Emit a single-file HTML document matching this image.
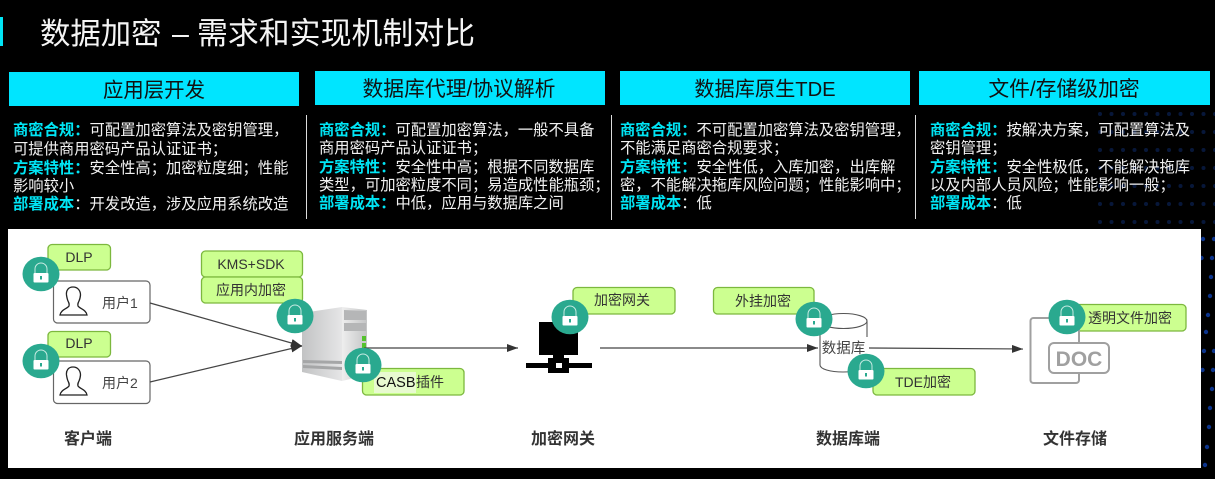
<!DOCTYPE html>
<html lang="zh">
<head>
<meta charset="utf-8">
<style>
html,body{margin:0;padding:0;background:#000;width:1215px;height:479px;overflow:hidden}
svg{display:block}
text{font-family:"Liberation Sans","Noto Sans CJK SC",sans-serif}
.h{font-size:20.4px;fill:#111;text-anchor:middle}
.b{font-size:15.3px;fill:#f2f2f2}
.c{fill:#00e5f5;font-weight:700}
.t{font-size:14px;fill:#333;text-anchor:middle}
.l{font-size:16px;fill:#333;text-anchor:middle;font-weight:700}
.g{fill:#ccff90;stroke:#7cb83e;stroke-width:1.3}
.ln{stroke:#444;stroke-width:1.2;fill:none}
</style>
</head>
<body>
<svg width="1215" height="479" viewBox="0 0 1215 479" xmlns="http://www.w3.org/2000/svg">
<defs>
<linearGradient id="sl" x1="0" y1="0" x2="1" y2="0"><stop offset="0" stop-color="#c2c3c4"/><stop offset="1" stop-color="#e6e6e7"/></linearGradient>
<linearGradient id="sr" x1="0" y1="0" x2="1" y2="0"><stop offset="0" stop-color="#eeeeee"/><stop offset="1" stop-color="#c4c5c6"/></linearGradient>
<pattern id="dots" x="1095" y="109" width="11.500" height="18" patternUnits="userSpaceOnUse"><circle cx="5" cy="5" r="2" fill="#07173a"/></pattern>
<g id="lock">
<ellipse cx="0" cy="0" rx="18.500" ry="17.300" fill="#2aa98f"/>
<path d="M-6-1v-4a6 6 0 0 1 12 0v4" fill="none" stroke="#c8ebe3" stroke-width="1"/>
<rect x="-7.500" y="-1" width="15" height="9.500" rx="1" fill="#fff"/>
<rect x="-1" y="2" width="2" height="3.500" fill="#2aa98f"/>
</g>
<path id="person" d="M13 1c-5 0-7 4-6.500 8 .3 2 .6 4 1.500 6 1 2 1.500 3 1 5-2 3-8 3.500-9 9h27c-1-5.500-7-6-9-9-.5-2 0-3 1-5 1-2 1.300-4 1.500-6C20.500 5 18 1 13 1z" fill="none" stroke="#222" stroke-width="1.300"/>
<marker id="ar" markerWidth="12" markerHeight="8" refX="11" refY="4" orient="auto" markerUnits="userSpaceOnUse"><path d="M0 0L11 4L0 8z" fill="#333"/></marker>
</defs>

<rect width="1215" height="479" fill="#000"/>
<rect x="1095" y="109" width="120" height="120" fill="url(#dots)"/>
<g fill="#0c348c">
<circle cx="1203" cy="239" r="2.200"/><circle cx="1214" cy="239" r="2.200"/>
<circle cx="1201.500" cy="258" r="2.200"/><circle cx="1212" cy="258" r="2.200"/>
<circle cx="1211" cy="277" r="2.200"/><circle cx="1210" cy="296" r="2.200"/>
<circle cx="1208" cy="315" r="2.200"/><circle cx="1206" cy="332" r="2.200"/>
<circle cx="1204" cy="351" r="2.200"/><circle cx="1214" cy="351" r="2.200"/>
<circle cx="1202.500" cy="370" r="2.200"/><circle cx="1213" cy="370" r="2.200"/>
<circle cx="1212" cy="389" r="2.200"/><circle cx="1210" cy="408" r="2.200"/>
<circle cx="1209" cy="427" r="2.200"/><circle cx="1207" cy="447" r="2.200"/>
<circle cx="1205" cy="465" r="2.200"/>
</g>

<!-- Title -->
<rect x="0" y="17" width="3" height="29" fill="#00e5f5"/>
<text x="40" y="44" font-size="30.400" fill="#f5f5f5">数据加密<tspan x="172">–</tspan><tspan x="197" font-size="30.900">需求和实现机制对比</tspan></text>

<!-- Headers -->
<rect x="9" y="72" width="290" height="34" fill="#00e5ff"/>
<rect x="315" y="71" width="290" height="34" fill="#00e5ff"/>
<rect x="620" y="71" width="290" height="34" fill="#00e5ff"/>
<rect x="919" y="71" width="291" height="34" fill="#00e5ff"/>
<text class="h" x="154" y="97">应用层开发</text>
<text class="h" x="459" y="96" style="font-size:20.800px">数据库代理/协议解析</text>
<text class="h" x="765" y="96" style="font-size:20.200px">数据库原生TDE</text>
<text class="h" x="1064" y="96" style="font-size:20.800px">文件/存储级加密</text>

<!-- Separators -->
<rect x="306" y="115" width="1" height="104" fill="#ddd"/>
<rect x="611" y="115" width="1" height="105" fill="#ddd"/>
<rect x="915" y="115" width="1" height="104" fill="#ddd"/>

<!-- Column 1 -->
<text class="b" x="13" y="135"><tspan class="c">商密合规：</tspan>可配置加密算法及密钥管理，</text>
<text class="b" x="13" y="154">可提供商用密码产品认证证书；</text>
<text class="b" x="13" y="173"><tspan class="c">方案特性：</tspan>安全性高；加密粒度细；性能</text>
<text class="b" x="13" y="191">影响较小</text>
<text class="b" x="13" y="209"><tspan class="c">部署成本</tspan>：开发改造，涉及应用系统改造</text>

<!-- Column 2 -->
<text class="b" x="319" y="135"><tspan class="c">商密合规：</tspan>可配置加密算法，一般不具备</text>
<text class="b" x="319" y="153">商用密码产品认证证书；</text>
<text class="b" x="319" y="172"><tspan class="c">方案特性：</tspan>安全性中高；根据不同数据库</text>
<text class="b" x="319" y="190">类型，可加密粒度不同；易造成性能瓶颈；</text>
<text class="b" x="319" y="208"><tspan class="c">部署成本：</tspan>中低，应用与数据库之间</text>

<!-- Column 3 -->
<text class="b" x="620" y="135"><tspan class="c">商密合规：</tspan>不可配置加密算法及密钥管理，</text>
<text class="b" x="620" y="153">不能满足商密合规要求；</text>
<text class="b" x="620" y="172"><tspan class="c">方案特性：</tspan>安全性低，入库加密，出库解</text>
<text class="b" x="620" y="190">密，不能解决拖库风险问题；性能影响中；</text>
<text class="b" x="620" y="208"><tspan class="c">部署成本</tspan>：低</text>

<!-- Column 4 -->
<text class="b" x="930" y="135"><tspan class="c">商密合规：</tspan>按解决方案，可配置算法及</text>
<text class="b" x="930" y="153">密钥管理；</text>
<text class="b" x="930" y="172"><tspan class="c">方案特性：</tspan>安全性极低，不能解决拖库</text>
<text class="b" x="930" y="190">以及内部人员风险；性能影响一般；</text>
<text class="b" x="930" y="208"><tspan class="c">部署成本</tspan>：低</text>

<!-- Diagram panel -->
<rect x="8" y="229" width="1193" height="239" fill="#fff"/>

<!-- Tags -->
<rect class="g" x="48" y="244.500" width="62.500" height="25.500" rx="4"/>
<rect class="g" x="48" y="331.500" width="62.500" height="25.500" rx="4"/>
<rect class="g" x="201.500" y="251" width="101" height="26" rx="4"/>
<rect class="g" x="201.500" y="277" width="101" height="26" rx="4"/>
<rect class="g" x="362.500" y="368.500" width="101.500" height="26.500" rx="4"/>
<rect class="g" x="573" y="287.500" width="102" height="26.500" rx="4"/>
<rect class="g" x="713.500" y="287.500" width="100.500" height="26.500" rx="4"/>
<rect class="g" x="873" y="368.500" width="102" height="26.500" rx="4"/>
<rect class="g" x="1070" y="304.500" width="116" height="26.500" rx="4"/>
<text class="t" x="79" y="262">DLP</text>
<text class="t" x="79" y="348">DLP</text>
<text class="t" x="251" y="269">KMS+SDK</text>
<text class="t" x="251" y="295">应用内加密</text>
<rect x="374" y="372" width="42" height="21" fill="#e8fad0"/>
<text x="376" y="387" font-size="14.500" fill="#111">CASB</text>
<text x="416" y="387" font-size="14" fill="#333">插件</text>
<text class="t" x="622" y="305">加密网关</text>
<text class="t" x="763" y="306">外挂加密</text>
<text class="t" x="923" y="387">TDE加密</text>
<text x="1088" y="323" font-size="14" fill="#333">透明文件加密</text>

<!-- Users -->
<rect x="53.500" y="281" width="96.500" height="42" rx="4" fill="#fff" stroke="#666" stroke-width="1.200"/>
<rect x="53.500" y="361" width="96.500" height="42.500" rx="4" fill="#fff" stroke="#666" stroke-width="1.200"/>
<use href="#person" x="60" y="286"/>
<use href="#person" x="60" y="366"/>
<text x="102" y="308" font-size="14" fill="#444">用户1</text>
<text x="102" y="388" font-size="14" fill="#444">用户2</text>

<!-- Server -->
<polygon points="302,313 342,307 342,381 302,372" fill="url(#sl)"/>
<polygon points="342,307 367,310 367,375 342,381" fill="url(#sr)"/>
<polygon points="303,360 342,361 342,364 303,363" fill="#a5a6a7"/>
<polygon points="303,365 342,367 342,370 303,368" fill="#a5a6a7"/>
<polygon points="344,310 366,311 366,320 344,320" fill="#b5b6b7"/>
<polygon points="344,323 366,323 366,331 344,331" fill="#b5b6b7"/>
<rect x="362" y="336" width="4" height="5" fill="#55c22e"/>
<rect x="362" y="343" width="4" height="5" fill="#55c22e"/>

<!-- Connectors -->
<line class="ln" x1="150" y1="303" x2="302" y2="346" marker-end="url(#ar)"/>
<line class="ln" x1="150" y1="382" x2="302" y2="346" marker-end="url(#ar)"/>
<line class="ln" x1="364" y1="348" x2="518" y2="348" marker-end="url(#ar)"/>
<line class="ln" x1="600" y1="348" x2="818" y2="348" marker-end="url(#ar)"/>

<!-- Gateway -->
<rect x="539" y="322" width="39" height="33" fill="#000"/>
<rect x="553" y="355" width="11" height="4" fill="#000"/>
<rect x="526" y="363" width="66" height="5" fill="#000"/>
<rect x="548" y="358" width="21" height="15" fill="#000"/>
<rect x="556" y="363" width="6" height="5" fill="#fff"/>

<!-- Database -->
<path d="M820 321v44c0 4 10 7 23 7s24-3 24-7v-44" fill="#fff" stroke="#555" stroke-width="1.100"/>
<ellipse cx="843.500" cy="321" rx="23.500" ry="7.500" fill="#fff" stroke="#555" stroke-width="1.100"/>
<rect x="821" y="337" width="47" height="21" fill="#fff"/>
<text x="843.500" y="353" font-size="14.500" fill="#444" text-anchor="middle">数据库</text>
<line class="ln" x1="869" y1="348" x2="1023" y2="349" marker-end="url(#ar)"/>

<!-- DOC -->
<rect x="1030.500" y="318" width="48.500" height="65" rx="3" fill="#fff" stroke="#a0a0a0" stroke-width="2"/>
<rect x="1049" y="343" width="60" height="30" rx="5" fill="#fff" stroke="#a0a0a0" stroke-width="2"/>
<text x="1079" y="366" font-size="21" font-weight="700" fill="#a0a0a0" text-anchor="middle">DOC</text>

<!-- Locks -->
<use href="#lock" x="41" y="274"/>
<use href="#lock" x="41" y="361"/>
<use href="#lock" x="295" y="316"/>
<use href="#lock" x="363" y="365"/>
<use href="#lock" x="570" y="317"/>
<use href="#lock" x="814" y="319"/>
<use href="#lock" x="866" y="371"/>
<use href="#lock" x="1067" y="317"/>

<!-- Bottom labels -->
<text class="l" x="88" y="444">客户端</text>
<text class="l" x="334" y="444">应用服务端</text>
<text class="l" x="563" y="444">加密网关</text>
<text class="l" x="848" y="444">数据库端</text>
<text class="l" x="1075" y="444">文件存储</text>
</svg>
</body>
</html>
